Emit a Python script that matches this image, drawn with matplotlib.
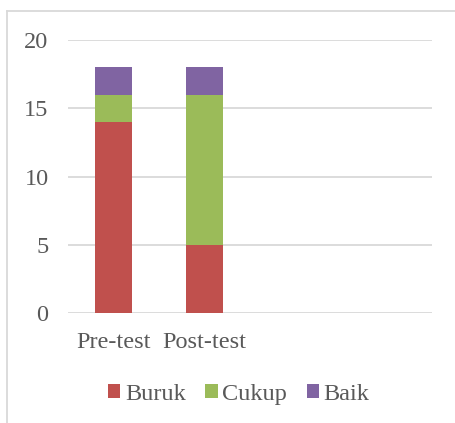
import matplotlib
matplotlib.use("Agg")
import matplotlib.pyplot as plt
from matplotlib.lines import Line2D
import numpy as np

categories = ["Pre-test", "Post-test", "", ""]
series_names = ["Buruk", "Cukup", "Baik"]
buruk = [14, 5, 0, 0]
cukup = [2, 11, 0, 0]
baik = [2, 2, 0, 0]
colors = ["#C0504D", "#9BBB59", "#8064A2"]
yticks = [0, 5, 10, 15, 20]

plt.rcParams["font.family"] = ["Liberation Serif", "DejaVu Serif"]
text_color = "#595959"
grid_color = "#D9D9D9"
fs = 17.5

fig = plt.figure(figsize=(4.55, 4.23), dpi=100)
ax = fig.add_axes([0.1495, 0.26, 0.80, 0.6454])

x = np.arange(len(categories))
bottom = np.zeros(len(categories))
for name, vals, col in zip(series_names, [buruk, cukup, baik], colors):
    ax.bar(x, vals, width=0.4, bottom=bottom, color=col, label=name, zorder=3)
    bottom += np.array(vals)

ax.set_xlim(-0.5, len(categories) - 0.5)
ax.set_ylim(0, 20)
ax.set_yticks(yticks)
ax.set_yticklabels([str(v) for v in yticks])
ax.set_xticks(x)
ax.set_xticklabels(categories)
ax.tick_params(axis="y", length=0, pad=14, labelsize=fs, labelcolor=text_color)
ax.tick_params(axis="x", length=0, pad=14, labelsize=fs, labelcolor=text_color)
ax.yaxis.grid(True, color=grid_color, linewidth=1.3, zorder=0)
ax.set_axisbelow(True)
for s in ax.spines.values():
    s.set_visible(False)

# outer frame of the chart area
fig.add_artist(Line2D([0.0154, 1.0], [0.974, 0.974], transform=fig.transFigure,
                      color=grid_color, linewidth=1.3))
fig.add_artist(Line2D([0.0154, 0.0154], [0.0, 0.974], transform=fig.transFigure,
                      color=grid_color, linewidth=1.3))

leg = fig.legend(loc="center", bbox_to_anchor=(0.525, 0.068), ncol=3,
                 frameon=False, fontsize=fs, handlelength=0.5, handleheight=0.5,
                 handletextpad=0.2, columnspacing=0.8, labelcolor=text_color)

fig.savefig("out.png", dpi=100)
